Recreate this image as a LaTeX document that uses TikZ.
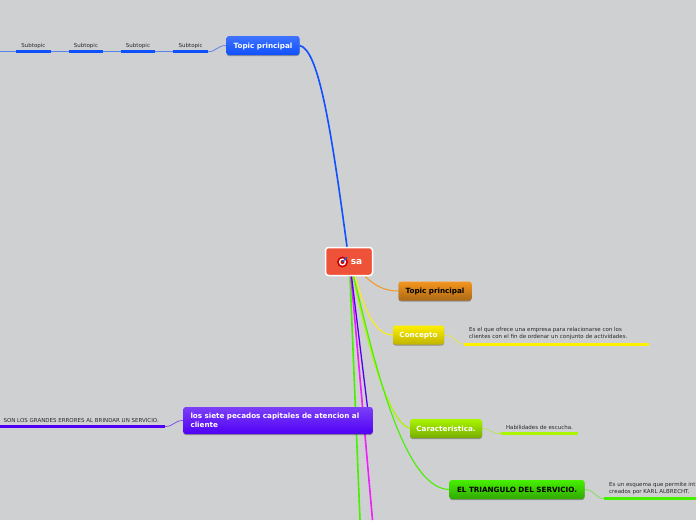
\documentclass[tikz,border=0pt]{standalone}
\usepackage{fontspec}
\setmainfont{DejaVu Sans}
\usetikzlibrary{shadows, positioning, calc, backgrounds}
\definecolor{canvasgray}{RGB}{206, 208, 210}
\definecolor{topicblue}{RGB}{15, 80, 255}
\definecolor{topicpurple}{RGB}{80, 0, 245}
\definecolor{topicorange}{RGB}{245, 150, 30}
\definecolor{topicyellow}{RGB}{255, 240, 0}
\definecolor{topiclime}{RGB}{170, 245, 0}
\definecolor{topicgreen}{RGB}{70, 240, 0}
\definecolor{topicpink}{RGB}{240, 30, 250}
\definecolor{rootred}{RGB}{238, 82, 56}
\definecolor{subtext}{RGB}{40, 40, 40}
\begin{document}
\begin{tikzpicture}[
  x=1pt, y=-1pt,
  topic/.style={rectangle, rounded corners=2.5pt, inner sep=0pt, align=center,
                font=\fontsize{7.2}{9}\selectfont\bfseries,
                drop shadow={shadow xshift=0pt, shadow yshift=-1pt, fill=black, opacity=0.3}},
  onetopic/.style={topic, text height=6pt, text depth=1pt, minimum height=19pt},
  subtopic/.style={inner sep=0pt, align=left, text=subtext,
                   font=\fontsize{5.5}{7.2}\selectfont},
  subshort/.style={subtopic, minimum height=12pt, align=center},
  conn/.style={line width=0.8pt, opacity=0.6},
  branch/.style={line width=1.6pt},
  under/.style={line width=3pt}
]
  \useasboundingbox (0,0) rectangle (696,520);
  % off-canvas ends
  \coordinate (edgeleft) at (0,51.7);
  \coordinate (edgeviolet) at (0,426.5);
  \coordinate (edgegreen) at (360,520);
  \coordinate (edgepink) at (372.5,520);
  \coordinate (edgelight) at (696,498.5);
  % nodes
  \node[subshort, minimum width=34.5pt] (sub4) at (190.7,45.5) {Subtopic};
  \node[subshort, minimum width=34pt] (sub3) at (138,45.5) {Subtopic};
  \node[subshort, minimum width=34pt] (sub2) at (86,45.5) {Subtopic};
  \node[subshort, minimum width=35pt] (sub1) at (33.5,45.5) {Subtopic};
  \node[onetopic, text=white, top color=topicblue!80!white, bottom color=topicblue,
        minimum width=73pt] (main) at (263,45.5) {Topic principal};
  \node[onetopic, text=black, top color=topicorange, bottom color=topicorange!70!black,
        minimum width=73pt] (topic) at (435,291) {Topic principal};
  \node[onetopic, text=white, top color=topicyellow, bottom color=topicyellow!75!black,
        minimum width=51pt] (concepto) at (418.5,335) {Concepto};
  \node[onetopic, text=white, top color=topiclime, bottom color=topiclime!70!black,
        minimum width=72pt] (carac) at (446,428.5) {Caracteristica.};
  \node[onetopic, text=black, top color=topicgreen, bottom color=topicgreen!70!black,
        minimum width=135pt] (triangulo) at (517,489.5) {EL TRIANGULO DEL SERVICIO.};
  \node[topic, text=white, top color=topicpurple!75!white, bottom color=topicpurple,
        minimum width=189.5pt, minimum height=27pt, text width=175pt, align=left] (pecados) at (278,420.5)
        {los siete pecados capitales de atencion al\\[0.5pt]cliente};
  \node[subtopic, anchor=west] (concdesc) at (469,333.5) {Es el que ofrece una empresa para relacionarse con los\\clientes con el fin de ordenar un conjunto de actividades.};
  \node[subshort, minimum width=77pt] (carcdesc) at (539.5,427.5) {Habilidades de escucha.};
  \node[subtopic, anchor=west] (tridesc) at (609,488.5) {Es un esquema que permite int\\creados por KARL ALBRECHT.};
  \node[subtopic, anchor=east] (pecdesc) at (159,420) {SON LOS GRANDES ERRORES AL BRINDAR UN SERVICIO.};
  \node[rectangle, rounded corners=3pt, draw=white, line width=1.5pt, fill=rootred,
        minimum width=47pt, minimum height=28pt, inner sep=0pt, text=white,
        text height=6pt, text depth=0pt,
        font=\fontsize{9}{11}\selectfont\bfseries] (root) at (349,261.5) {\hspace{15pt}sa};
  \fill[red!80!black] (342.5,262) circle (5.5pt);
  \fill[white] (342.5,262) circle (3.6pt);
  \fill[red!80!black] (342.5,262) circle (2pt);
  \draw[line width=1pt, blue!60!cyan] (342.5,262) -- (347,257);
  \begin{scope}[on background layer]
    \fill[canvasgray] (0,0) rectangle (696,520);
    % underlines
    \draw[under, topicblue] (sub1.south west) -- (sub1.south east);
    \draw[under, topicblue] (sub2.south west) -- (sub2.south east);
    \draw[under, topicblue] (sub3.south west) -- (sub3.south east);
    \draw[under, topicblue] (sub4.south west) -- (sub4.south east);
    \draw[under, topicyellow] (464,344) -- (649,344);
    \draw[under, topiclime] (carcdesc.south west) -- (carcdesc.south east);
    \draw[under, topicgreen] (604,498.5) -- (edgelight);
    \draw[under, topicpurple] (edgeviolet) -- (165,426.5);
    % connectors
    \draw[conn, topicblue] (edgeleft) -- (sub1.south west);
    \draw[conn, topicblue] (sub1.south east) -- (sub2.south west);
    \draw[conn, topicblue] (sub2.south east) -- (sub3.south west);
    \draw[conn, topicblue] (sub3.south east) -- (sub4.south west);
    \draw[conn, topicblue] (sub4.south east) .. controls (217,51.5) and (217,45.5) .. (main.west);
    \draw[conn, topicyellow] (concepto.east) .. controls (455,335) and (455,344) .. (464,344);
    \draw[conn, topiclime] (carac.east) .. controls (491,428.5) and (491,433.5) .. (carcdesc.south west);
    \draw[conn, topicgreen] (triangulo.east) .. controls (595,489.5) and (595,498.5) .. (604,498.5);
    \draw[conn, topicpurple] (165,426.5) .. controls (174,426.5) and (174,420.5) .. (pecados.west);
    \draw[branch, topicblue] (main.east) .. controls (318,50) and (330,120) .. ([xshift=-2pt]root.north);
    \draw[line width=1pt, topicorange] ([xshift=16pt]root.south) .. controls (375,286) and (385,291) .. (topic.west);
    \draw[line width=1pt, topicyellow] ([xshift=6pt]root.south) .. controls (362,300) and (372,335) .. (concepto.west);
    \draw[line width=1.2pt, topiclime] ([xshift=4pt]root.south) .. controls (365,330) and (385,420) .. (carac.west);
    \draw[line width=1.1pt, topicgreen] ([xshift=4.5pt]root.south) .. controls (370,340) and (400,489) .. (triangulo.west);
    \draw[branch, topicgreen] ([xshift=1pt]root.south) -- (edgegreen);
    \draw[branch, topicpink] ([xshift=2pt]root.south) -- (edgepink);
    \draw[line width=1.3pt, topicpurple] ([xshift=2.5pt]root.south) -- ([xshift=-5.5pt]pecados.north east);
  \end{scope}
\end{tikzpicture}
\end{document}
